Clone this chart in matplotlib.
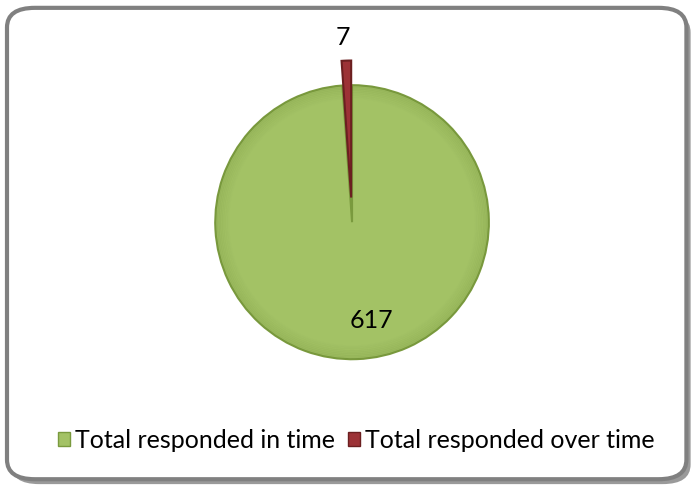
import matplotlib.pyplot as plt
from matplotlib.patches import FancyBboxPatch, Patch, Circle

labels = ["Total responded in time", "Total responded over time"]
values = [617, 7]
colors = ["#A3C265", "#9C3236"]
edges = ["#7A9A3E", "#6B1F20"]
explode = [0, 0.18]

plt.rcParams["font.family"] = ["Lato", "DejaVu Sans"]

fig = plt.figure(figsize=(6.99, 4.90), dpi=100)

# rounded frame with a shadow
shadow = FancyBboxPatch((0.016, 0.012), 0.972, 0.962, boxstyle="round,pad=0,rounding_size=0.04",
                        transform=fig.transFigure, facecolor="#9a9a9a", edgecolor="none", zorder=0)
frame = FancyBboxPatch((0.01, 0.022), 0.972, 0.962, boxstyle="round,pad=0,rounding_size=0.04",
                       transform=fig.transFigure, facecolor="white", edgecolor="#808080",
                       linewidth=3, zorder=1)
fig.patches.extend([shadow, frame])

ax = fig.add_axes([0.259, 0.197, 0.4893, 0.755])
ax.set_zorder(2)
wedges, texts = ax.pie(values, colors=colors, explode=explode, startangle=90,
                       counterclock=False, radius=1.0,
                       wedgeprops=dict(linewidth=1.5))
for w, ec in zip(wedges, edges):
    w.set_edgecolor(ec)

# soft bevel towards the rim of the big slice
for i in range(8):
    rr = 0.99 - i * 0.012
    ax.add_patch(Circle((0, 0), rr, facecolor="none", edgecolor="#5E7D2A",
                        linewidth=1.6, alpha=0.12 * (8 - i) / 8, zorder=3))
wedges[1].set_zorder(4)

# value labels
ax.text(0.14, -0.72, str(values[0]), ha="center", va="center", fontsize=18, color="black", zorder=5)
ax.text(-0.065, 1.35, str(values[1]), ha="center", va="center", fontsize=18, color="black")
ax.set_xlim(-1.25, 1.25)
ax.set_ylim(-1.25, 1.45)
ax.set_aspect("equal", adjustable="datalim")
ax.axis("off")

handles = [Patch(facecolor=c, edgecolor=e) for c, e in zip(colors, edges)]
fig.legend(handles, labels, loc="center", bbox_to_anchor=(0.51, 0.102), ncol=2,
           frameon=False, fontsize=18, handlelength=0.5, handleheight=0.5,
           handletextpad=0.2, columnspacing=0.5)

fig.savefig("out.png", dpi=100)
